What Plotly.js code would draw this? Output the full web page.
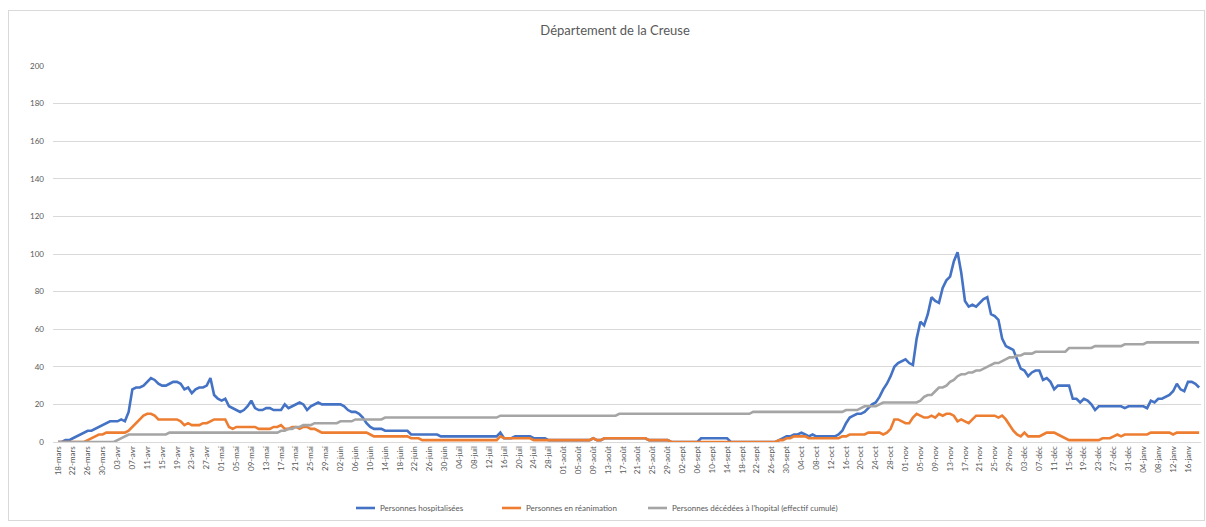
<!DOCTYPE html>
<html>
<head>
<meta charset="utf-8">
<script src="https://cdn.plot.ly/plotly-3.0.1.min.js"></script>
<style>
  html, body { margin: 0; padding: 0; background: #ffffff; }
  #wrap { position: relative; width: 1206px; height: 527px; }
  #chart { position: absolute; left: 0; top: 0; width: 1206px; height: 527px; }
  #frame { position: absolute; left: 8px; top: 10px; width: 1195px; height: 509px; border: 1px solid #d9d9d9; pointer-events: none; }
</style>
</head>
<body>
<div id="wrap"><div id="chart"></div><div id="frame"></div></div>
<script>
// ---- Data (daily, 18 mars 2020 -> 19 janv 2021) ----
const startDate = [2020, 2, 18];
const nDays = 308;
const monthNames = ['janv','févr','mars','avr','mai','juin','juil','août','sept','oct','nov','déc'];

const hospitalises = [
  0,0,1,1,2,3,4,5,6,6,
  7,8,9,10,11,11,11,12,11,16,
  28,29,29,30,32,34,33,31,30,30,
  31,32,32,31,28,29,26,28,29,29,
  30,34,25,23,22,23,19,18,17,16,
  17,19,22,18,17,17,18,18,17,17,
  17,20,18,19,20,21,20,17,19,20,
  21,20,20,20,20,20,20,19,17,16,
  16,15,13,10,8,7,7,7,6,6,
  6,6,6,6,6,4,4,4,4,4,
  4,4,4,3,3,3,3,3,3,3,
  3,3,3,3,3,3,3,3,3,5,
  2,2,2,3,3,3,3,3,2,2,
  2,2,1,1,1,1,1,1,1,1,
  1,1,1,1,2,1,1,2,2,2,
  2,2,2,2,2,2,2,2,2,1,
  1,1,1,1,1,0,0,0,0,0,
  0,0,0,2,2,2,2,2,2,2,
  2,0,0,0,0,0,0,0,0,0,
  0,0,0,0,1,2,3,3,4,4,
  5,4,3,4,3,3,3,3,3,3,
  4,6,10,13,14,15,15,16,18,20,
  21,24,28,31,35,40,42,43,44,42,
  41,55,64,62,68,77,75,74,82,86,
  88,96,101,90,75,72,73,72,74,76,
  77,68,67,65,55,51,50,49,44,39,
  38,35,37,38,38,33,34,32,28,30,
  30,30,30,23,23,21,23,22,20,17,
  19,19,19,19,19,19,19,18,19,19,
  19,19,19,18,22,21,23,23,24,25,
  27,31,28,27,32,32,31,29
];

const reanimation = [
  0,0,0,0,0,0,0,0,1,2,
  3,4,4,5,5,5,5,5,5,6,
  8,10,12,14,15,15,14,12,12,12,
  12,12,12,11,9,10,9,9,9,10,
  10,11,12,12,12,12,8,7,8,8,
  8,8,8,8,7,7,7,7,8,8,
  9,7,7,8,8,7,8,8,7,7,
  6,5,5,5,5,5,5,5,5,5,
  5,5,5,5,4,3,3,3,3,3,
  3,3,3,3,3,2,2,2,1,1,
  1,1,1,1,1,1,1,1,1,1,
  1,1,1,1,1,1,1,1,1,3,
  2,2,2,2,2,2,2,2,1,1,
  1,1,1,1,1,1,1,1,1,1,
  1,1,1,1,2,1,1,2,2,2,
  2,2,2,2,2,2,2,2,2,1,
  1,1,1,1,1,0,0,0,0,0,
  0,0,0,0,0,0,0,0,0,0,
  0,0,0,0,0,0,0,0,0,0,
  0,0,0,0,1,1,2,2,3,3,
  3,3,2,2,2,2,2,2,2,2,
  2,3,3,4,4,4,4,4,5,5,
  5,5,4,5,7,12,12,11,10,10,
  13,15,14,13,13,14,13,15,14,15,
  15,14,11,12,11,10,12,14,14,14,
  14,14,14,13,14,12,9,6,4,3,
  5,3,3,3,3,4,5,5,5,4,
  3,2,1,1,1,1,1,1,1,1,
  1,2,2,2,3,4,3,4,4,4,
  4,4,4,4,5,5,5,5,5,5,
  4,5,5,5,5,5,5,5
];

const decedes = [
  0,0,0,0,0,0,0,0,0,0,
  0,0,0,0,0,0,1,2,3,4,
  4,4,4,4,4,4,4,4,4,4,
  5,5,5,5,5,5,5,5,5,5,
  5,5,5,5,5,5,5,5,5,5,
  5,5,5,5,5,5,5,5,5,5,
  6,6,7,7,8,8,9,9,9,10,
  10,10,10,10,10,10,11,11,11,11,
  12,12,12,12,12,12,12,12,13,13,
  13,13,13,13,13,13,13,13,13,13,
  13,13,13,13,13,13,13,13,13,13,
  13,13,13,13,13,13,13,13,13,14,
  14,14,14,14,14,14,14,14,14,14,
  14,14,14,14,14,14,14,14,14,14,
  14,14,14,14,14,14,14,14,14,14,
  14,15,15,15,15,15,15,15,15,15,
  15,15,15,15,15,15,15,15,15,15,
  15,15,15,15,15,15,15,15,15,15,
  15,15,15,15,15,15,15,16,16,16,
  16,16,16,16,16,16,16,16,16,16,
  16,16,16,16,16,16,16,16,16,16,
  16,16,17,17,17,17,18,19,19,19,
  19,20,21,21,21,21,21,21,21,21,
  21,21,22,24,25,25,27,29,29,30,
  32,33,35,36,36,37,37,38,38,39,
  40,41,42,42,43,44,45,45,46,46,
  47,47,47,48,48,48,48,48,48,48,
  48,48,50,50,50,50,50,50,50,51,
  51,51,51,51,51,51,51,52,52,52,
  52,52,52,53,53,53,53,53,53,53,
  53,53,53,53,53,53,53,53
];

const seriesNames = [
  'Personnes hospitalisées',
  'Personnes en réanimation',
  "Personnes décédées à l'hopital (effectif cumulé)"
];
const yTicks = [0,20,40,60,80,100,120,140,160,180,200];

// ---- Category labels ----
function pad(n){ return (n < 10 ? '0' : '') + n; }
const categories = [];
for (let i = 0; i < nDays; i++) {
  const d = new Date(startDate[0], startDate[1], startDate[2] + i);
  categories.push(pad(d.getDate()) + '-' + monthNames[d.getMonth()]);
}
const xTickVals = categories.filter((_, i) => i % 4 === 0);

const FONT = 'Lato, "Open Sans", "Liberation Sans", sans-serif';
const TXT = '#595959';

const colors = ['#4472C4', '#ED7D31', '#A5A5A5'];
const allSeries = [hospitalises, reanimation, decedes];

const traces = allSeries.map((vals, k) => ({
  type: 'scatter',
  mode: 'lines',
  x: categories,
  y: vals,
  name: seriesNames[k],
  line: { color: colors[k], width: 2.6, shape: 'linear' },
  hoverinfo: 'x+y+name'
}));

const layout = {
  width: 1206,
  height: 527,
  margin: { l: 53, r: 5, t: 66, b: 85, pad: 0 },
  paper_bgcolor: '#ffffff',
  plot_bgcolor: '#ffffff',
  font: { family: FONT, color: TXT, size: 8 },
  title: {
    text: 'Département de la Creuse',
    font: { family: FONT, size: 13, color: TXT },
    xref: 'container', x: 0.51, xanchor: 'center',
    yref: 'container', y: 1 - 30 / 527, yanchor: 'middle'
  },
  xaxis: {
    type: 'category',
    range: [-1.35, 307.5],
    tickmode: 'array',
    tickvals: xTickVals,
    ticktext: xTickVals,
    tickangle: -90,
    tickfont: { family: FONT, size: 8, color: TXT },
    showgrid: false,
    showline: true,
    linecolor: '#d9d9d9',
    linewidth: 1,
    ticks: '',
    zeroline: false,
    fixedrange: true
  },
  yaxis: {
    range: [0, 200],
    tickmode: 'array',
    tickvals: yTicks,
    ticktext: yTicks.map(String),
    tickfont: { family: FONT, size: 8, color: TXT },
    showgrid: true,
    gridcolor: '#d9d9d9',
    gridwidth: 1,
    zeroline: false,
    showline: false,
    ticks: '',
    ticklabelstandoff: 8,
    fixedrange: true
  },
  showlegend: true,
  legend: {
    orientation: 'h',
    x: (340 - 53) / 1148, xanchor: 'left',
    y: -(508 - 442) / 376, yanchor: 'middle',
    font: { family: FONT, size: 8, color: TXT },
    bgcolor: 'rgba(0,0,0,0)',
    itemwidth: 30,
    entrywidth: 101,
    tracegroupgap: 0
  }
};

Plotly.newPlot('chart', traces, layout, { displayModeBar: false, staticPlot: true }).then(function (gd) {
  // shorter legend line samples, as in the reference
  gd.querySelectorAll('.legend .legendlines path').forEach(function (p) {
    p.setAttribute('d', 'M16,0h19');
  });
  // let the last (longest) legend label show in full
  gd.querySelectorAll('.legend [clip-path]').forEach(function (el) {
    el.removeAttribute('clip-path');
  });
  const lg = gd.querySelector('.legend');
  if (lg) lg.removeAttribute('clip-path');
});
</script>
</body>
</html>
